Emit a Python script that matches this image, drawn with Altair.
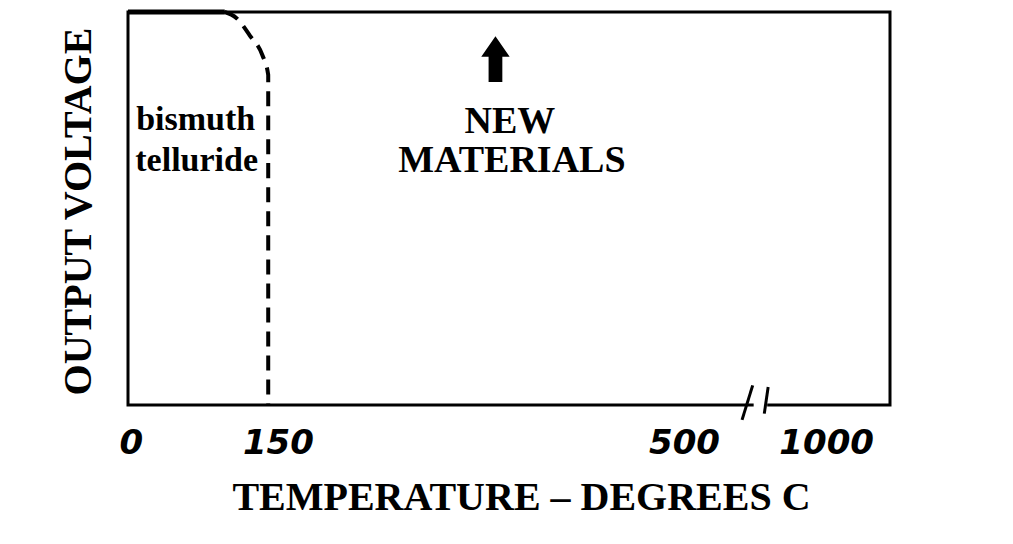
import altair as alt
import pandas as pd

# ---- data ----
solid_temp = [0, 100]
solid_volt = [100, 100]
dash_temp = [100, 112, 126, 139, 145, 145]
dash_volt = [100, 98.5, 94, 89, 84, 0]

tick_labels = ["0", "150", "500", "1000"]
tick_pos = [3, 155, 575, 722]

left_text = ["bismuth", "telluride"]
left_x = [70, 71]
left_y = [72.5, 62]

center_text = ["NEW", "MATERIALS"]
center_x = [395, 397]
center_y = [72, 62]

arrow_x = [380]
arrow_y = [88]

break_x1 = [635, 658]
break_y1 = [-3.8, -2.2]
break_x2 = [646, 662]
break_y2 = [5.0, 4.6]
gap_x = [647]
gap_x2 = [661]

W, H = 762, 393
XD = [0, 788]
YD = [0, 100]

xs = alt.Scale(domain=XD, nice=False, zero=False)
ys = alt.Scale(domain=YD, nice=False, zero=False)

label_expr = " : ".join(
    [f"datum.value == {p} ? '{t}'" for p, t in zip(tick_pos, tick_labels)]
) + " : ''"

base_x_axis = alt.Axis(
    values=tick_pos, labelExpr=label_expr, domain=False, ticks=False, grid=False,
    labelFont="DejaVu Sans", labelFontStyle="italic", labelFontWeight="bold",
    labelFontSize=34, labelColor="black", labelPadding=21, labelFlush=False,
    title="TEMPERATURE  –  DEGREES C", titleFont="Liberation Serif",
    titleFontWeight="bold", titleFontSize=40, titleColor="black",
    titlePadding=17, titleX=393,
)
base_y_axis = alt.Axis(
    labels=False, domain=False, ticks=False, grid=False,
    title="OUTPUT VOLTAGE", titleFont="Liberation Serif", titleFontWeight="bold",
    titleFontSize=40, titleColor="black", titlePadding=30, titleY=199,
)

solid_df = pd.DataFrame({"t": solid_temp, "v": solid_volt})
dash_df = pd.DataFrame({"t": dash_temp, "v": dash_volt})
left_df = pd.DataFrame({"text": left_text, "x": left_x, "y": left_y})
center_df = pd.DataFrame({"text": center_text, "x": center_x, "y": center_y})
arr_df = pd.DataFrame({"x": arrow_x, "y": arrow_y})
brk_df = pd.DataFrame({"x": break_x1, "y": break_y1, "x2": break_x2, "y2": break_y2})
gap_df = pd.DataFrame({"x": gap_x, "x2": gap_x2, "y": [0]})

solid = alt.Chart(solid_df).mark_line(color="black", strokeWidth=5).encode(
    x=alt.X("t:Q", scale=xs, axis=base_x_axis),
    y=alt.Y("v:Q", scale=ys, axis=base_y_axis),
)
dashed = alt.Chart(dash_df).mark_line(
    color="black", strokeWidth=4, strokeDash=[15, 9], interpolate="monotone"
).encode(x=alt.X("t:Q", scale=xs), y=alt.Y("v:Q", scale=ys))

left_texts = alt.Chart(left_df).mark_text(
    font="Liberation Serif", fontWeight="bold", fontSize=34, color="black",
    baseline="middle", align="center",
).encode(x=alt.X("x:Q", scale=xs), y=alt.Y("y:Q", scale=ys), text="text:N")

center_texts = alt.Chart(center_df).mark_text(
    font="Liberation Serif", fontWeight="bold", fontSize=38, color="black",
    baseline="middle", align="center",
).encode(x=alt.X("x:Q", scale=xs), y=alt.Y("y:Q", scale=ys), text="text:N")

arrow_path = "M0,-1 L0.62,-0.1 L0.3,-0.1 L0.3,1 L-0.3,1 L-0.3,-0.1 L-0.62,-0.1 Z"
arrow = alt.Chart(arr_df).mark_point(
    shape=arrow_path, filled=True, color="black", size=2100, opacity=1
).encode(x=alt.X("x:Q", scale=xs), y=alt.Y("y:Q", scale=ys))

gap = alt.Chart(gap_df).mark_rule(color="white", strokeWidth=8).encode(
    x=alt.X("x:Q", scale=xs), x2="x2:Q", y=alt.Y("y:Q", scale=ys)
)
breaks = alt.Chart(brk_df).mark_rule(color="black", strokeWidth=3).encode(
    x=alt.X("x:Q", scale=xs), x2="x2:Q", y=alt.Y("y:Q", scale=ys), y2="y2:Q"
)

chart = alt.layer(solid, dashed, left_texts, center_texts, arrow, gap, breaks).properties(
    width=W, height=H,
    autosize=alt.AutoSizeParams(type="none"),
    padding={"left": 120, "top": 4, "right": 110, "bottom": 130},
    background="white",
).configure_view(stroke="black", strokeWidth=3)

chart.save("out.html", embed_options={"renderer": "svg", "actions": False})
